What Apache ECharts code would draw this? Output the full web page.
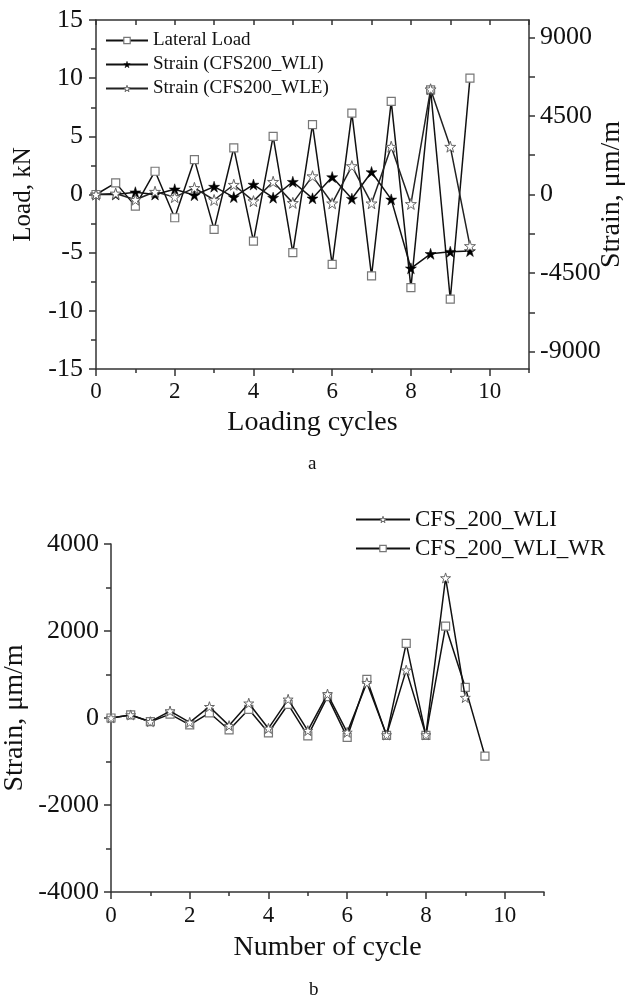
<!DOCTYPE html>
<html>
<head>
<meta charset="utf-8">
<script src="https://cdn.jsdelivr.net/npm/echarts@6/dist/echarts.min.js"></script>
<style>html,body{margin:0;padding:0;background:#fff}#c{width:627px;height:1005px}</style>
</head>
<body>
<div id="c"></div>
<script>
// ---- Data (chart a) ----
const cyclesA = [0,0.5,1,1.5,2,2.5,3,3.5,4,4.5,5,5.5,6,6.5,7,7.5,8,8.5,9,9.5];
const lateralLoad = [0,1,-1,2,-2,3,-3,4,-4,5,-5,6,-6,7,-7,8,-8,9,-9,10];
const strainWLI = [0,0,130,0,300,-40,450,-150,570,-180,730,-220,1000,-240,1290,-280,-4230,-3400,-3280,-3240];
const strainWLE = [0,60,-300,160,-150,380,-315,560,-380,730,-480,1050,-505,1630,-505,2740,-540,6030,2740,-2950];
const loadTicks = [-15,-10,-5,0,5,10,15];
const strainTicksA = [-9000,-4500,0,4500,9000];
const strainMinorA = [-9000,-6750,-4500,-2250,0,2250,4500,6750,9000];
// ---- Data (chart b) ----
const cyclesB = [0,0.5,1,1.5,2,2.5,3,3.5,4,4.5,5,5.5,6,6.5,7,7.5,8,8.5,9,9.5];
const strainB_WLI = [0,70,-85,160,-100,260,-175,340,-240,430,-290,550,-330,810,-390,1100,-390,3220,470];
const strainB_WR = [0,70,-85,90,-160,120,-275,200,-340,315,-410,490,-445,890,-400,1715,-400,2110,705,-875];
const xMajor = [0,2,4,6,8,10];
const xMinor = [1,3,5,7,9,11];
const xAll = [0,1,2,3,4,5,6,7,8,9,10,11];

const zip = (xs, ys) => ys.map((y, i) => [xs[i], y]);
const FONT = 'Liberation Serif, Times New Roman, serif';
const AX = '#333';
const star = 'path://M50 0L61.2 34.5L97.6 34.5L68.2 55.9L79.4 90.5L50 69.1L20.6 90.5L31.8 55.9L2.4 34.5L38.8 34.5Z';
const lineW = 1.5;
const axLine = {show: true, onZero: false, lineStyle: {color: AX, width: 1.5}};
const plain = v => String(v);
const lblX = {fontFamily: FONT, fontSize: 23, color: '#111', formatter: plain};
const lblY = {fontFamily: FONT, fontSize: 26, color: '#111', formatter: plain};
const nameStyle = (s) => ({fontFamily: FONT, fontSize: s, color: '#111'});

const openStar = {color: '#fff', borderColor: '#666', borderWidth: 1};
const openRect = {color: '#fff', borderColor: '#777', borderWidth: 1.2};
const fillStar = {color: '#000', borderColor: '#000', borderWidth: 0.5};

const chart = echarts.init(document.getElementById('c'), null, {renderer: 'canvas'});
chart.setOption({
  backgroundColor: '#fff',
  animation: false,
  grid: [
    {left: 96, top: 20, width: 433, height: 349, outerBoundsMode: 'none', containLabel: false},
    {left: 111, top: 544, width: 433, height: 348, outerBoundsMode: 'none', containLabel: false}
  ],
  legend: [
    {
      orient: 'vertical', left: 100, top: 26, itemWidth: 42, itemHeight: 8, itemGap: 5,
      textStyle: {fontFamily: FONT, fontSize: 19, color: '#111'},
      data: [
        {name: 'Lateral Load', itemStyle: openRect},
        {name: 'Strain (CFS200_WLI)', itemStyle: fillStar},
        {name: 'Strain (CFS200_WLE)', itemStyle: openStar}
      ]
    },
    {
      orient: 'vertical', left: 350, top: 503, itemWidth: 54, itemHeight: 8, itemGap: 6,
      textStyle: {fontFamily: FONT, fontSize: 23, color: '#111'},
      data: [
        {name: 'CFS_200_WLI', itemStyle: openStar},
        {name: 'CFS_200_WLI_WR', itemStyle: openRect}
      ]
    }
  ],
  xAxis: [
    {gridIndex: 0, type: 'value', min: 0, max: 11, position: 'bottom',
      axisLine: axLine, splitLine: {show: false},
      axisTick: {show: true, length: 7, customValues: xMajor, lineStyle: {color: AX, width: 1.5}},
      axisLabel: Object.assign({margin: 11, customValues: xMajor}, lblX),
      name: 'Loading cycles', nameLocation: 'middle', nameGap: 40, nameMoveOverlap: false, nameTextStyle: nameStyle(28)},
    {gridIndex: 0, type: 'value', min: 0, max: 11, position: 'bottom',
      axisLine: {show: false, onZero: false}, splitLine: {show: false}, axisLabel: {show: false},
      axisTick: {show: true, length: 4, customValues: xMinor, lineStyle: {color: AX, width: 1.5}}},
    {gridIndex: 0, type: 'value', min: 0, max: 11, position: 'top',
      axisLine: axLine, splitLine: {show: false}, axisLabel: {show: false},
      axisTick: {show: true, inside: true, length: 5, customValues: xAll, lineStyle: {color: AX, width: 1.5}}},
    {gridIndex: 1, type: 'value', min: 0, max: 11, position: 'bottom',
      axisLine: axLine, splitLine: {show: false},
      axisTick: {show: true, length: 7, customValues: xMajor, lineStyle: {color: AX, width: 1.5}},
      axisLabel: Object.assign({margin: 12, customValues: xMajor}, lblX),
      name: 'Number of cycle', nameLocation: 'middle', nameGap: 42, nameMoveOverlap: false, nameTextStyle: nameStyle(28)},
    {gridIndex: 1, type: 'value', min: 0, max: 11, position: 'bottom',
      axisLine: {show: false, onZero: false}, splitLine: {show: false}, axisLabel: {show: false},
      axisTick: {show: true, length: 4, customValues: xMinor, lineStyle: {color: AX, width: 1.5}}}
  ],
  yAxis: [
    {gridIndex: 0, type: 'value', min: -15, max: 15, interval: 5, position: 'left',
      axisLine: axLine, splitLine: {show: false},
      axisTick: {show: true, length: 7, lineStyle: {color: AX, width: 1.5}},
      minorTick: {show: true, splitNumber: 2, length: 5, lineStyle: {color: AX, width: 1.5}},
      axisLabel: Object.assign({margin: 13, customValues: loadTicks}, lblY),
      name: 'Load, kN', nameLocation: 'middle', nameGap: 60, nameRotate: 90, nameMoveOverlap: false, nameTextStyle: nameStyle(25)},
    {gridIndex: 0, type: 'value', min: -10000, max: 10000, position: 'right',
      axisLine: axLine, splitLine: {show: false},
      axisTick: {show: true, length: 6, customValues: strainMinorA, lineStyle: {color: AX, width: 1.5}},
      axisLabel: Object.assign({margin: 11, customValues: strainTicksA}, lblY),
      name: 'Strain, μm/m', nameLocation: 'middle', nameGap: 69, nameRotate: 90, nameMoveOverlap: false, nameTextStyle: nameStyle(28)},
    {gridIndex: 1, type: 'value', min: -4000, max: 4000, interval: 2000, position: 'left',
      axisLine: axLine, splitLine: {show: false},
      axisTick: {show: true, length: 7, lineStyle: {color: AX, width: 1.5}},
      minorTick: {show: true, splitNumber: 2, length: 5, lineStyle: {color: AX, width: 1.5}},
      axisLabel: Object.assign({margin: 12}, lblY),
      name: 'Strain, μm/m', nameLocation: 'middle', nameGap: 82, nameRotate: 90, nameMoveOverlap: false, nameTextStyle: nameStyle(28)}
  ],
  series: [
    {name: 'Lateral Load', type: 'line', xAxisIndex: 0, yAxisIndex: 0, data: zip(cyclesA, lateralLoad),
      symbol: 'rect', symbolSize: 8, showAllSymbol: true,
      itemStyle: openRect, lineStyle: {color: '#111', width: lineW}, z: 3},
    {name: 'Strain (CFS200_WLI)', type: 'line', xAxisIndex: 0, yAxisIndex: 1, data: zip(cyclesA, strainWLI),
      symbol: star, symbolSize: 11, showAllSymbol: true,
      itemStyle: fillStar, lineStyle: {color: '#111', width: lineW}, z: 4},
    {name: 'Strain (CFS200_WLE)', type: 'line', xAxisIndex: 0, yAxisIndex: 1, data: zip(cyclesA, strainWLE),
      symbol: star, symbolSize: 11, showAllSymbol: true,
      itemStyle: openStar, lineStyle: {color: '#222', width: lineW}, z: 5},
    {name: 'CFS_200_WLI', type: 'line', xAxisIndex: 3, yAxisIndex: 2, data: zip(cyclesB, strainB_WLI),
      symbol: star, symbolSize: 10, showAllSymbol: true,
      itemStyle: openStar, lineStyle: {color: '#111', width: lineW}, z: 4},
    {name: 'CFS_200_WLI_WR', type: 'line', xAxisIndex: 3, yAxisIndex: 2, data: zip(cyclesB, strainB_WR),
      symbol: 'rect', symbolSize: 8, showAllSymbol: true,
      itemStyle: openRect, lineStyle: {color: '#111', width: lineW}, z: 3}
  ],
  graphic: [
    {type: 'text', left: 308, top: 455, style: {text: 'a', font: '19px ' + FONT, fill: '#111'}},
    {type: 'text', left: 309, top: 981, style: {text: 'b', font: '19px ' + FONT, fill: '#111'}}
  ]
});
</script>
</body>
</html>
